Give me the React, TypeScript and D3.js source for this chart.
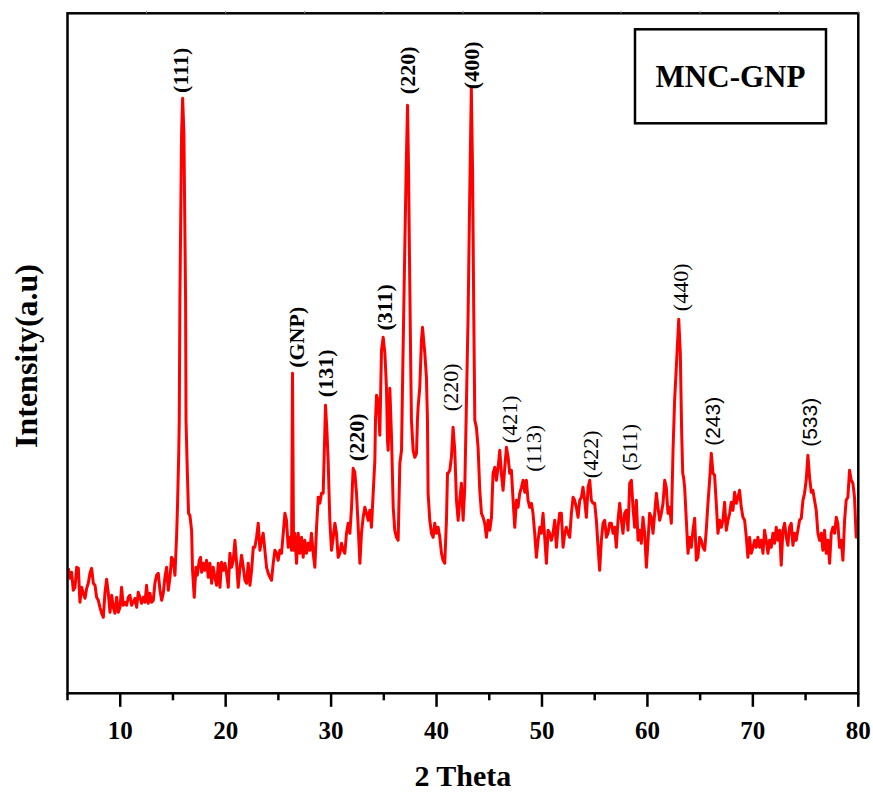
import React from 'react';
import * as d3 from 'd3';

// XRD pattern of MNC-GNP
const twoTheta = [
  5.08, 5.24, 5.39, 5.55, 5.71, 5.87, 6.03, 6.18, 6.34, 6.5, 6.66, 6.82, 6.97, 7.13, 7.29, 7.45, 7.61, 7.76, 7.92, 8.08,
  8.24, 8.4, 8.55, 8.71, 8.87, 9.03, 9.19, 9.34, 9.5, 9.66, 9.82, 9.98, 10.13, 10.29, 10.45, 10.61, 10.77, 10.92, 11.08, 11.24,
  11.4, 11.56, 11.71, 11.87, 12.03, 12.19, 12.35, 12.5, 12.66, 12.82, 12.98, 13.14, 13.29, 13.45, 13.61, 13.77, 13.93, 14.08, 14.24, 14.4,
  14.56, 14.72, 14.87, 15.03, 15.19, 15.35, 15.44, 15.55, 15.6, 15.66, 15.82, 15.92, 16.04, 16.2, 16.24, 16.36, 16.48, 16.61, 16.77, 16.86,
  17.02, 17.18, 17.31, 17.5, 17.62, 17.72, 17.88, 18.03, 18.19, 18.35, 18.51, 18.67, 18.82, 18.98, 19.14, 19.3, 19.46, 19.61, 19.77, 19.93,
  20.09, 20.25, 20.4, 20.56, 20.72, 20.88, 21.04, 21.19, 21.35, 21.51, 21.67, 21.83, 21.98, 22.14, 22.3, 22.46, 22.62,
  22.77, 22.93, 23.09, 23.25, 23.4, 23.56, 23.72, 23.88, 24.04, 24.2, 24.35, 24.51, 24.67, 24.83, 24.98, 25.14, 25.3, 25.46, 25.62, 25.77,
  25.93, 26.09, 26.25, 26.34, 26.44, 26.56, 26.72, 26.88, 27.04, 27.2, 27.35, 27.51, 27.67, 27.83, 27.99, 28.14, 28.3, 28.46, 28.62, 28.78,
  28.93, 29.09, 29.25, 29.35, 29.47, 29.6, 29.72, 29.88, 30.04, 30.2, 30.36, 30.51, 30.67, 30.83, 30.99, 31.15, 31.3, 31.46, 31.62, 31.78,
  31.94, 32.09, 32.25, 32.41, 32.57, 32.73, 32.88, 33.04, 33.2, 33.36, 33.52, 33.67, 33.83, 33.99, 34.15, 34.21, 34.31, 34.46, 34.62, 34.78,
  34.94, 35.1, 35.25, 35.35, 35.41, 35.57, 35.73, 35.89, 36.04, 36.2, 36.36, 36.52, 36.68, 36.77, 36.95, 37.13, 37.25, 37.35, 37.45, 37.55,
  37.62, 37.78, 37.94, 38.1, 38.19, 38.25, 38.41, 38.57, 38.67, 38.89, 39.04, 39.14, 39.2, 39.36, 39.52, 39.68, 39.83, 39.99, 40.15, 40.31,
  40.47, 40.62, 40.78, 40.94, 41.04,
  41.1, 41.26, 41.41, 41.57, 41.73, 41.89, 42.05, 42.2, 42.36, 42.52, 42.68, 42.84, 42.99, 43.15, 43.3, 43.42, 43.53, 43.63, 43.78, 43.94,
  44.1, 44.26, 44.42, 44.57, 44.73, 44.89, 45.05, 45.21, 45.36, 45.52, 45.68, 45.84, 46.0, 46.15, 46.31, 46.47, 46.63, 46.79, 46.94, 47.1,
  47.26, 47.42, 47.58, 47.73, 47.89, 48.05, 48.21, 48.37, 48.52, 48.68, 48.84, 49.0, 49.15, 49.31, 49.47, 49.63, 49.79, 49.94, 50.1, 50.26,
  50.42, 50.58, 50.73, 50.89, 51.05, 51.21, 51.37, 51.52, 51.68, 51.84, 52.0, 52.16, 52.31, 52.47, 52.63, 52.79, 52.95, 53.1, 53.26, 53.42,
  53.58, 53.74, 53.89, 54.05, 54.21, 54.37, 54.53, 54.68, 54.84, 55.0, 55.16, 55.32, 55.47, 55.63, 55.79, 55.95, 56.11, 56.26, 56.42, 56.58,
  56.74, 56.9, 57.05, 57.21, 57.37, 57.53, 57.68, 57.84, 58.0, 58.16, 58.32, 58.48, 58.63, 58.79, 58.95, 59.11, 59.27, 59.42, 59.58, 59.74,
  59.9, 60.06, 60.21, 60.37, 60.53, 60.69, 60.85, 61.0, 61.16, 61.32, 61.48, 61.64, 61.79, 61.95, 62.11, 62.27, 62.43, 62.58, 62.74, 62.97,
  63.12, 63.25, 63.35, 63.44,
  63.53, 63.69, 63.85, 64.0, 64.16, 64.32, 64.48, 64.64, 64.79, 64.95, 65.11, 65.27, 65.43, 65.58, 65.74, 65.9, 66.06, 66.22, 66.37, 66.53,
  66.69, 66.85, 67.01, 67.16, 67.32, 67.48, 67.64, 67.8, 67.95, 68.11, 68.27, 68.43, 68.59, 68.74, 68.9, 69.06, 69.22, 69.38, 69.53, 69.69,
  69.85, 70.01, 70.17, 70.32, 70.48, 70.64, 70.8, 70.96, 71.11, 71.27, 71.43, 71.59, 71.75, 71.9, 72.06, 72.22, 72.38, 72.54, 72.69, 72.85,
  73.01, 73.17, 73.32, 73.48, 73.64, 73.8, 73.96, 74.11, 74.27, 74.43, 74.59, 74.75, 74.9, 75.06, 75.22, 75.38, 75.54, 75.69, 75.85, 76.01,
  76.17, 76.33, 76.49, 76.64, 76.8, 76.96, 77.12, 77.28, 77.43, 77.59, 77.75, 77.91, 78.06, 78.22, 78.38, 78.54, 78.7, 78.85, 79.01, 79.17,
  79.33, 79.49, 79.64, 79.8, 79.86,
];

const intensity = [
  125, 115, 121, 103, 106, 126, 125, 91, 106, 100, 95, 105, 110, 120, 125, 110, 108, 96, 93, 86,
  80, 76, 100, 114, 100, 81, 98, 86, 80, 96, 81, 86, 106, 88, 91, 88, 96, 98, 88, 91,
  95, 86, 101, 96, 90, 96, 91, 108, 90, 100, 91, 93, 110, 118, 120, 103, 93, 100, 116, 126,
  103, 116, 136, 133, 118, 158, 190, 240, 273, 393, 560, 595, 560, 393, 273, 223, 180, 178, 163, 123,
  96, 126, 118, 133, 136, 121, 130, 123, 133, 116, 130, 110, 126, 116, 108, 130, 106, 131, 123, 130,
  120, 106, 140, 126, 133, 153, 130, 106, 125, 138, 126, 113, 110, 130, 108, 123, 146,
  146, 156, 170, 143, 153, 160, 143, 126, 120, 116, 113, 130, 143, 140, 133, 143, 140, 160, 180, 173,
  146, 156, 143, 320, 143, 160, 130, 160, 140, 156, 136, 153, 140, 150, 143, 160, 140, 126, 166, 196,
  190, 200, 200, 240, 288, 263, 233, 173, 143, 156, 170, 160, 136, 140, 150, 143, 140, 160, 170, 160,
  186, 225, 221, 200, 166, 130, 160, 176, 186, 180, 173, 183, 166, 200, 233, 273, 298, 293, 258, 343,
  356, 340, 306, 253, 243, 305, 256, 186, 163, 156, 153, 230, 243, 306, 420, 530, 588, 520, 420, 330,
  273, 243, 236, 240, 273, 286, 306, 353, 366, 340, 316, 273, 200, 173, 160, 156, 170, 160, 166, 156,
  140, 133, 130, 173, 220,
  220, 223, 236, 266, 243, 193, 173, 193, 210, 173, 206, 293, 376, 500, 605, 520, 380, 273, 266, 246,
  203, 180, 176, 170, 156, 173, 163, 176, 220, 226, 213, 226, 243, 220, 203, 226, 246, 236, 220, 223,
  193, 166, 193, 186, 200, 206, 213, 201, 213, 193, 186, 190, 180, 160, 136, 153, 166, 160, 180, 156,
  130, 163, 160, 153, 160, 173, 146, 166, 180, 180, 146, 160, 166, 160, 156, 180, 196, 193, 186, 176,
  193, 196, 206, 193, 176, 206, 213, 193, 190, 190, 173, 146, 123, 153, 170, 173, 156, 160, 170, 170,
  160, 166, 146, 173, 190, 173, 160, 180, 183, 163, 210, 213, 186, 166, 193, 153, 163, 150, 176, 160,
  126, 153, 180, 176, 160, 180, 200, 186, 173, 180, 190, 213, 206, 180, 186, 170, 243, 293, 326, 374,
  340, 260, 220, 215,
  206, 173, 140, 156, 146, 163, 175, 133, 136, 156, 153, 146, 143, 163, 190, 213, 240, 220, 218, 190,
  160, 173, 166, 173, 191, 163, 173, 180, 191, 183, 201, 190, 196, 203, 186, 176, 173, 156, 136, 156,
  140, 146, 153, 146, 156, 146, 153, 140, 163, 153, 140, 153, 146, 160, 150, 166, 153, 163, 128, 163,
  170, 156, 148, 166, 170, 148, 160, 153, 163, 173, 175, 193, 200, 213, 238, 216, 201, 203, 193, 183,
  160, 153, 160, 143, 163, 140, 153, 130, 160, 166, 160, 176, 170, 146, 153, 133, 173, 193, 196, 223,
  213, 210, 196, 156, 156,
];

// peak annotations: text, 2theta of the label centre, intensity level of the label centre
const peakNames = ['(111)', '(GNP)', '(131)', '(220)', '(311)', '(220)', '(400)', '(220)', '(421)', '(113)', '(422)', '(511)', '(440)', '(243)', '(533)'];
const peakTheta = [15.76, 26.71, 29.5, 32.44, 35.05, 37.27, 43.34, 41.35, 46.94, 49.22, 54.62, 58.32, 63.15, 66.19, 75.38];
const peakLevel = [623, 356, 320, 256, 386, 623, 628, 306, 274, 245, 239, 246, 406, 272, 271];

const xTickLabels = [10, 20, 30, 40, 50, 60, 70, 80];
const seriesName = 'MNC-GNP';

const W = 873;
const H = 794;
const serif = '"Liberation Serif", "Times New Roman", Times, serif';

export default function App() {
  const x = d3.scaleLinear().domain([5, 80]).range([67.5, 858.3]);
  const y = d3.scaleLinear().domain([0, 680]).range([693.3, 13.3]);

  const pts: [number, number][] = twoTheta.map((t, i) => [t, intensity[i]]);
  const line = d3.line<[number, number]>()
    .x((d) => x(d[0]))
    .y((d) => y(d[1]));

  const minor = d3.range(5, 80, 10);
  const topTicks = d3.range(12.5, 80.1, 7.5);
  const [x0, x1] = x.range();
  const [yb, yt] = y.range();

  // bold serif for the strong reflections, plain serif / sans for the rest
  const labelStyle = (i: number) => {
    if (i <= 6) return { fontFamily: serif, fontWeight: 'bold', fontSize: 22 };
    if (i === 13 || i === 14) return { fontFamily: '"Liberation Sans", Arial, sans-serif', fontWeight: 'normal', fontSize: 21 };
    return { fontFamily: serif, fontWeight: 'normal', fontSize: 22 };
  };

  return (
    <svg width={W} height={H} style={{ position: 'absolute', left: 0, top: 0, background: '#fff' }}>
      <rect x={0} y={0} width={W} height={H} fill="#fff" />

      <path d={line(pts) || ''} fill="none" stroke="#ff0000" strokeWidth={3} strokeLinejoin="round" />

      {/* frame */}
      <rect x={x0} y={yt} width={x1 - x0} height={yb - yt} fill="none" stroke="#000" strokeWidth={2.5} />

      {/* bottom ticks */}
      {xTickLabels.map((t) => (
        <g key={'M' + t}>
          <line x1={x(t)} x2={x(t)} y1={yb} y2={yb + 13.5} stroke="#000" strokeWidth={2.5} />
          <text x={x(t)} y={738.5} textAnchor="middle" fontFamily={serif} fontWeight="bold" fontSize={25}>{t}</text>
        </g>
      ))}
      {minor.map((t) => (
        <line key={'m' + t} x1={x(t)} x2={x(t)} y1={yb} y2={yb + 7} stroke="#000" strokeWidth={2.5} />
      ))}
      {topTicks.map((t) => (
        <line key={'t' + t} x1={x(t)} x2={x(t)} y1={yt} y2={yt - 2.5} stroke="#999" strokeWidth={1} />
      ))}

      {/* axis titles */}
      <text x={(x0 + x1) / 2} y={786} textAnchor="middle" fontFamily={serif} fontWeight="bold" fontSize={30}>2 Theta</text>
      <text transform={`translate(37,356) rotate(-90)`} textAnchor="middle" fontFamily={serif} fontWeight="bold" fontSize={32}>Intensity(a.u)</text>

      {/* peak labels */}
      {peakNames.map((name, i) => {
        const s = labelStyle(i);
        return (
          <text
            key={'p' + i}
            transform={`translate(${x(peakTheta[i])},${y(peakLevel[i])}) rotate(-90)`}
            textAnchor="middle"
            dominantBaseline="central"
            fontFamily={s.fontFamily}
            fontWeight={s.fontWeight}
            fontSize={s.fontSize}
          >
            {name}
          </text>
        );
      })}

      {/* legend box */}
      <rect x={635} y={29.3} width={191} height={94} fill="#fff" stroke="#000" strokeWidth={2.5} />
      <text x={730.5} y={87} textAnchor="middle" fontFamily={serif} fontWeight="bold" fontSize={31}>{seriesName}</text>
    </svg>
  );
}
